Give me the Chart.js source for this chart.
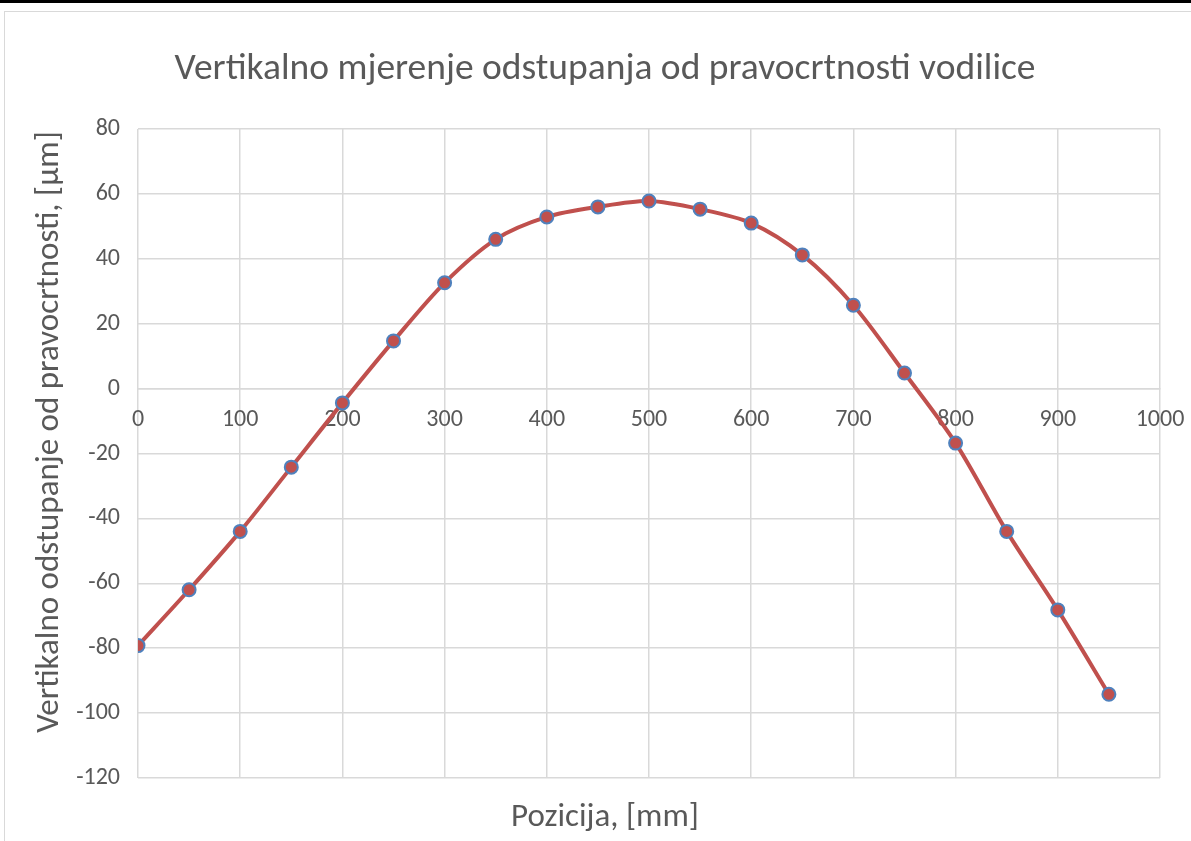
<!DOCTYPE html>
<html>
<head>
<meta charset="utf-8">
<script src="https://cdn.jsdelivr.net/npm/chart.js@4/dist/chart.umd.min.js"></script>
<style>
    html, body { margin: 0; padding: 0; background: #fff; overflow: hidden; width: 1191px; height: 841px; }
    #topBar { position: absolute; left: 0; top: 0; width: 1191px; height: 3px; background: #000; }
    #chartBox { position: absolute; left: 4px; top: 11px; width: 1200px; height: 840px;
        border-left: 1px solid #d9d9d9; border-top: 1px solid #d9d9d9; }
    canvas { display: block; }
</style>
</head>
<body>
<div id="topBar"></div>
<div id="chartBox"><canvas id="straightnessChart" width="1200" height="840"></canvas></div>
<script>
const positions = [0, 50, 100, 150, 200, 250, 300, 350, 400, 450, 500, 550, 600, 650, 700, 750, 800, 850, 900, 950];
const deviations = [-79.2, -62, -44, -24.2, -4.4, 14.7, 32.6, 46, 52.9, 56, 57.8, 55.3, 51, 41.2, 25.7, 4.8, -16.8, -44, -68.2, -94.2];

const xMin = 0, xMax = 1000, xStep = 100;
const yMin = -120, yMax = 80, yStep = 20;

const chartTitle = 'Vertikalno mjerenje odstupanja od pravocrtnosti vodilice';
const xTitle = 'Pozicija, [mm]';
const yTitle = 'Vertikalno odstupanje od pravocrtnosti, [µm]';

const fontFamily = 'Carlito, Calibri, Lato, sans-serif';
const textColor = '#595959';
const gridColor = '#d9d9d9';

// helper for the empty axes that only carry a title or a margin
function emptyAxis(extra) {
    return Object.assign({
        type: 'linear',
        grid: { display: false },
        border: { display: false },
        ticks: { display: false }
    }, extra);
}

document.addEventListener('DOMContentLoaded', function() {
    const ctx = document.getElementById('straightnessChart').getContext('2d');
    const points = positions.map((p, i) => ({ x: p, y: deviations[i] }));

    new Chart(ctx, {
        type: 'line',
        data: {
            datasets: [{
                data: points,
                borderColor: '#c0504d',
                borderWidth: 4,
                tension: 0.3,
                pointRadius: 6.5,
                pointBorderWidth: 2,
                pointBorderColor: '#4f81bd',
                pointBackgroundColor: '#c0504d',
                fill: false
            }]
        },
        options: {
            responsive: false,
            animation: false,
            devicePixelRatio: 1,
            layout: { padding: 0 },
            plugins: {
                legend: { display: false },
                tooltip: { enabled: false },
                title: {
                    display: true,
                    text: chartTitle,
                    color: textColor,
                    font: { family: fontFamily, size: 37.5, weight: 'normal' },
                    padding: { top: 35.5, bottom: 36.5 }
                }
            },
            scales: {
                x: {
                    type: 'linear',
                    position: { y: 0 },
                    min: xMin,
                    max: xMax,
                    grid: { color: gridColor, lineWidth: 1.5, drawTicks: false },
                    border: { display: true, color: gridColor, width: 1.5 },
                    ticks: {
                        stepSize: xStep,
                        padding: 17,
                        color: textColor,
                        font: { family: fontFamily, size: 24 },
                        maxRotation: 0,
                        callback: function(value) { return String(value); }
                    }
                },
                y: {
                    type: 'linear',
                    min: yMin,
                    max: yMax,
                    weight: 0,
                    grid: { color: gridColor, lineWidth: 1.5, drawTicks: false },
                    border: { display: false },
                    ticks: {
                        stepSize: yStep,
                        padding: 18,
                        color: textColor,
                        font: { family: fontFamily, size: 24 }
                    },
                    afterFit: function(scale) { scale.width = 63; }
                },
                // axis titles are centred on the whole chart box, as in Excel
                xTitleAxis: emptyAxis({
                    position: 'bottom',
                    fullSize: true,
                    min: xMin,
                    max: xMax,
                    title: {
                        display: true,
                        text: xTitle,
                        color: textColor,
                        font: { family: fontFamily, size: 33 },
                        padding: { top: 14, bottom: 14 }
                    },
                    afterFit: function(scale) { scale.height = 74; }
                }),
                yTitleAxis: emptyAxis({
                    position: 'left',
                    fullSize: true,
                    weight: 1,
                    min: yMin,
                    max: yMax,
                    title: {
                        display: true,
                        text: yTitle,
                        color: textColor,
                        font: { family: fontFamily, size: 33 },
                        padding: { top: 25, bottom: 25 }
                    },
                    afterFit: function(scale) { scale.width = 70; }
                }),
                // empty right-hand axis, only to keep the right margin
                yRight: emptyAxis({
                    position: 'right',
                    min: yMin,
                    max: yMax,
                    afterFit: function(scale) { scale.width = 45; }
                })
            }
        }
    });
});
</script>
</body>
</html>
